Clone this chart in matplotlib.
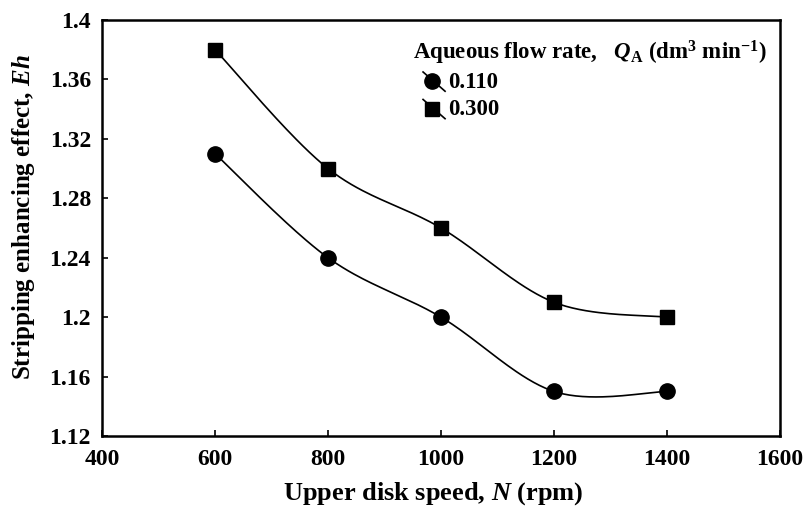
import numpy as np
import matplotlib
matplotlib.use("Agg")
import matplotlib.pyplot as plt
from matplotlib.lines import Line2D
from matplotlib.legend_handler import HandlerBase

plt.rcParams['font.family'] = 'Liberation Serif'
plt.rcParams['font.weight'] = 'bold'
plt.rcParams['mathtext.fontset'] = 'custom'
plt.rcParams['mathtext.rm'] = 'Liberation Serif:bold'
plt.rcParams['mathtext.it'] = 'Liberation Serif:italic:bold'
plt.rcParams['mathtext.bf'] = 'Liberation Serif:bold'

speed = [600, 800, 1000, 1200, 1400]
eh_0110 = [1.31, 1.24, 1.20, 1.15, 1.15]
eh_0300 = [1.38, 1.30, 1.26, 1.21, 1.20]
series_labels = ['0.110', '0.300']
x_ticks = [400, 600, 800, 1000, 1200, 1400, 1600]
y_ticks = [1.12, 1.16, 1.2, 1.24, 1.28, 1.32, 1.36, 1.4]
y_tick_labels = ['1.12', '1.16', '1.2', '1.24', '1.28', '1.32', '1.36', '1.4']


def smooth(x, y, n=40):
    x = np.asarray(x, float); y = np.asarray(y, float)
    px = np.concatenate([[x[0]], x, [x[-1]]])
    py = np.concatenate([[y[0]], y, [y[-1]]])
    xs, ys = [], []
    t = np.linspace(0, 1, n)
    for i in range(1, len(px) - 2):
        p0 = np.array([px[i], py[i]]); p3 = np.array([px[i + 1], py[i + 1]])
        c1 = p0 + (np.array([px[i + 1], py[i + 1]]) - np.array([px[i - 1], py[i - 1]])) / 6
        c2 = p3 - (np.array([px[i + 2], py[i + 2]]) - np.array([px[i], py[i]])) / 6
        b = ((1 - t) ** 3)[:, None] * p0 + (3 * (1 - t) ** 2 * t)[:, None] * c1 \
            + (3 * (1 - t) * t ** 2)[:, None] * c2 + (t ** 3)[:, None] * p3
        xs.extend(b[:, 0]); ys.extend(b[:, 1])
    return xs, ys


class DiagHandler(HandlerBase):
    def create_artists(self, legend, orig, xdescent, ydescent, width, height, fontsize, trans):
        x0, x1 = -xdescent, -xdescent + width * 1.2
        y0, y1 = -ydescent + height * 1.0, -ydescent - height * 0.2
        ln = Line2D([x0, x1], [y0, y1], color='black', lw=1.2, transform=trans)
        mk = Line2D([-xdescent + width * 0.5], [-ydescent + height * 0.42], marker=orig.get_marker(),
                    ms=orig.get_markersize(), color='black', linestyle='none', transform=trans)
        return [ln, mk]


fig = plt.figure(figsize=(8.11, 5.07), dpi=100)
ax = fig.add_axes([0.1258, 0.140, 0.836, 0.8206])

for yv, mk, ms in [(eh_0110, 'o', 11), (eh_0300, 's', 10)]:
    sx, sy = smooth(speed, yv)
    ax.plot(sx, sy, color='black', lw=1.2)
    ax.plot(speed, yv, linestyle='none', marker=mk, ms=ms, color='black')

ax.set_xlim(400, 1600)
ax.set_ylim(1.12, 1.4)
ax.set_xticks(x_ticks)
ax.set_yticks(y_ticks)
ax.set_yticklabels(y_tick_labels)
ax.tick_params(direction='in', length=4, width=1.2, labelsize=17)
ax.tick_params(axis='x', pad=9)
ax.tick_params(axis='y', pad=8)
for s in ax.spines.values():
    s.set_linewidth(1.8)

ax.set_xlabel('Upper disk speed, $N$ (rpm)', fontsize=19, fontweight='bold')
ax.xaxis.set_label_coords(0.488, -0.105)
ax.set_ylabel('Stripping enhancing effect, $Eh$', fontsize=18, fontweight='bold')
ax.yaxis.set_label_coords(-0.096, 0.525)

ax.text(0.4587, 0.906, 'Aqueous flow rate,   $Q_{\\mathrm{A}}$ (dm$^{3}$ min$^{-1}$)',
        transform=ax.transAxes, fontsize=16.5, fontweight='bold', ha='left', va='baseline')

handles = [Line2D([0], [0], color='black', marker='o', ms=11, lw=1),
           Line2D([0], [0], color='black', marker='s', ms=10, lw=1)]
leg = ax.legend(handles, series_labels, loc='upper left', bbox_to_anchor=(0.4735, 0.875),
                frameon=False, fontsize=16.5, handlelength=0.8, handletextpad=0.3,
                labelspacing=0.28, borderaxespad=0, borderpad=0,
                handler_map={Line2D: DiagHandler()})

fig.savefig('out.png', dpi=100)
